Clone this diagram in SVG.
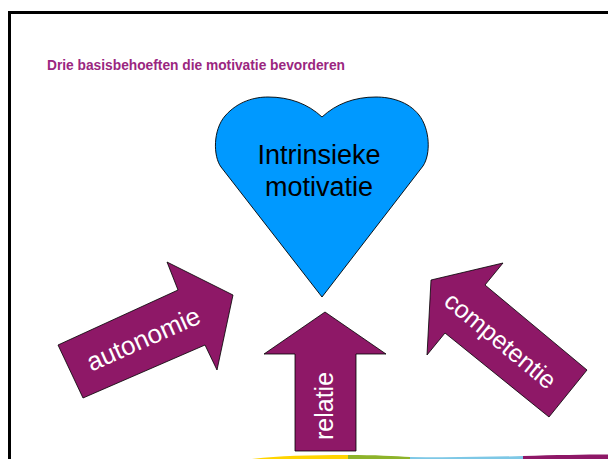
<svg xmlns="http://www.w3.org/2000/svg" width="608" height="459" viewBox="0 0 608 459">
  <style>
    .title { font-family: "Liberation Sans", Arial, sans-serif; font-weight: bold; font-size: 14px; fill: #9A2680; }
    .arrow { fill: #8E1867; stroke: #000000; stroke-width: 0.8; stroke-linejoin: miter; }
    .arrow-label { font-family: "Liberation Sans", Arial, sans-serif; font-size: 25px; fill: #FFFFFF; text-anchor: middle; }
    .heart { fill: #0099FF; stroke: #000000; stroke-width: 0.9; }
    .heart-label { font-family: "Liberation Sans", Arial, sans-serif; font-size: 27px; fill: #000000; text-anchor: middle; }
  </style>

  <rect x="0" y="0" width="608" height="459" fill="#FFFFFF"/>

  <!-- slide frame -->
  <path d="M9.5,459 V12.5 H608" fill="none" stroke="#000000" stroke-width="3"/>

  <!-- coloured band along the bottom edge -->
  <g id="bottom-band">
    <path d="M252,459 C275,456 310,455 348,455 L348,459 Z" fill="#FFD400"/>
    <path d="M348,455 C375,455 395,456 410,457 L410,459 L348,459 Z" fill="#8DB32A"/>
    <path d="M410,457 C450,457.5 490,457 523,456 L523,459 L410,459 Z" fill="#7EC8E6"/>
    <path d="M523,456 C555,455 585,454.5 608,454.5 L608,459 L523,459 Z" fill="#8E1867"/>
  </g>

  <text class="title" x="47" y="69.5" textLength="298" lengthAdjust="spacingAndGlyphs">Drie basisbehoeften die motivatie bevorderen</text>

  <g id="heart">
    <path class="heart" d="M322,297 L221,167 C213,156 213,130 225,116 C238,101 255,97 268,97 C290,97 308,104 322,117 C336,104 354,97 376,97 C390,97 408,101 419,115 C430,129 431,154 423,166 Z"/>
    <text class="heart-label" x="319" y="164">Intrinsieke</text>
    <text class="heart-label" x="319" y="196">motivatie</text>
  </g>

  <g id="connectors">
    <g id="arrow-autonomie">
      <polygon class="arrow" points="83,398 58,345 178,290 167,262 233,295 217,370 205,345"/>
      <text class="arrow-label" style="font-size:26px" transform="translate(147,347) rotate(-24)">autonomie</text>
    </g>
    <g id="arrow-relatie">
      <polygon class="arrow" points="295,451 295,354 264,354 325,312 386,354 356,354 356,451"/>
      <text class="arrow-label" transform="translate(333,406) rotate(-90)">relatie</text>
    </g>
    <g id="arrow-competentie">
      <polygon class="arrow" points="549,417 445,333 427,355 431,280 503,263 485,285 587,370"/>
      <text class="arrow-label" transform="translate(495,347) rotate(39.5)">competentie</text>
    </g>
  </g>
</svg>
